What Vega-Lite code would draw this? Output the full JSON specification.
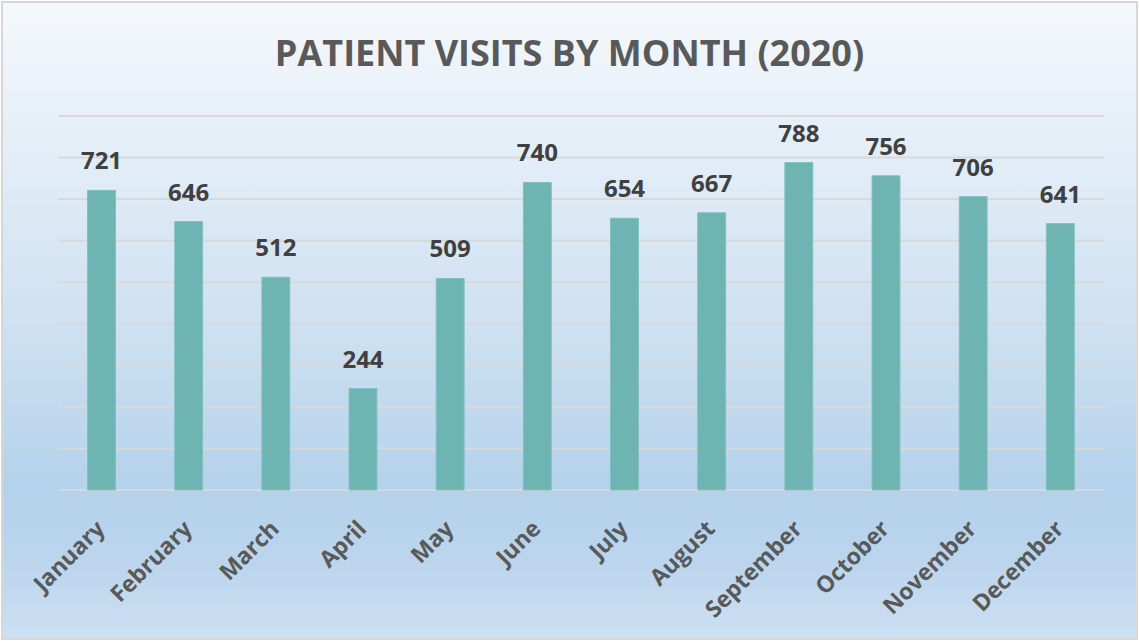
{
  "$schema": "https://vega.github.io/schema/vega-lite/v6.json",
  "width": 1135,
  "height": 637,
  "autosize": {"type": "none"},
  "padding": {"left": 2, "top": 2, "right": 2, "bottom": 2},
  "background": "#ffffff",
  "title": {
    "text": "PATIENT VISITS BY MONTH (2020)",
    "font": "Open Sans",
    "fontSize": 36,
    "fontWeight": "bold",
    "color": "#595959",
    "anchor": "middle",
    "baseline": "alphabetic",
    "offset": -100
  },
  "datasets": {
    "visits": [
      {"month": "January", "visits": 721},
      {"month": "February", "visits": 646},
      {"month": "March", "visits": 512},
      {"month": "April", "visits": 244},
      {"month": "May", "visits": 509},
      {"month": "June", "visits": 740},
      {"month": "July", "visits": 654},
      {"month": "August", "visits": 667},
      {"month": "September", "visits": 788},
      {"month": "October", "visits": 756},
      {"month": "November", "visits": 706},
      {"month": "December", "visits": 641}
    ],
    "gridlines": [
      {"v": 0}, {"v": 100}, {"v": 200}, {"v": 300}, {"v": 400},
      {"v": 500}, {"v": 600}, {"v": 700}, {"v": 800}, {"v": 900}
    ]
  },
  "layer": [
    {
      "data": {"name": "gridlines"},
      "mark": {"type": "rule", "color": "#d9d9d9", "strokeWidth": 2},
      "encoding": {
        "x": {"datum": -0.5, "type": "quantitative", "scale": {"domain": [-1.147, 11.872], "nice": false, "zero": false}, "axis": null},
        "x2": {"datum": 11.5},
        "y": {"field": "v", "type": "quantitative", "scale": {"domain": [-358.6, 1174.3], "nice": false, "zero": false}, "axis": null}
      }
    },
    {
      "data": {"name": "visits"},
      "encoding": {
        "x": {
          "field": "month", "type": "nominal", "sort": null,
          "scale": {"paddingInner": 0.68, "paddingOuter": 0.8505, "align": 0.577},
          "axis": {
            "title": null, "labelAngle": -45, "domain": false, "ticks": false,
            "offset": -149,
            "labelPadding": 27, "labelFont": "Open Sans", "labelFontSize": 23,
            "labelFontWeight": "bold", "labelColor": "#595959", "labelOffset": -8
          }
        },
        "y": {"field": "visits", "type": "quantitative", "axis": null}
      },
      "layer": [
        {"mark": {"type": "bar", "color": "#6db4b3", "stroke": "#80c0bf", "strokeWidth": 1},
         "encoding": {"y2": {"datum": 0}}},
        {"mark": {"type": "text", "font": "Open Sans", "fontSize": 24, "fontWeight": "bold", "color": "#404040", "baseline": "alphabetic", "dy": -21},
         "encoding": {"text": {"field": "visits", "type": "quantitative"}}}
      ]
    }
  ],
  "resolve": {"scale": {"x": "independent"}},
  "config": {"view": {
    "stroke": "#d6d6d6", "strokeWidth": 2,
    "fill": {"gradient": "linear", "x1": 0, "y1": 0, "x2": 0, "y2": 1, "stops": [
      {"offset": 0, "color": "#f5f8fb"},
      {"offset": 0.18, "color": "#e7f0f8"},
      {"offset": 0.5, "color": "#cfe1f2"},
      {"offset": 0.76, "color": "#b4d2eb"},
      {"offset": 0.88, "color": "#bbd5ed"},
      {"offset": 1, "color": "#cde0f3"}
    ]}
  }}
}
